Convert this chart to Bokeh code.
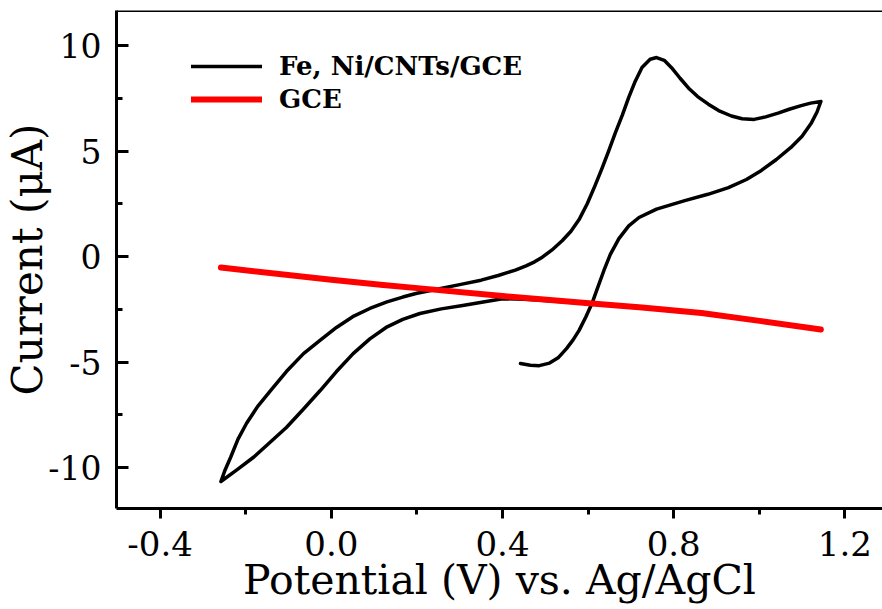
from bokeh.plotting import figure
from bokeh.models import FixedTicker, Span, Legend, LegendItem, Range1d
from bokeh.embed import file_html
from bokeh.resources import INLINE

# ---- data ----
fe_ni_potential = [
    0.442, 0.465, 0.486, 0.51, 0.53, 0.55, 0.565, 0.579, 0.595, 0.609, 0.622, 0.637, 0.652,
    0.672, 0.695, 0.719, 0.76, 0.826, 0.88, 0.928, 0.97, 1.005, 1.04, 1.074, 1.10, 1.121,
    1.135, 1.144,
    1.12, 1.098, 1.07, 1.044, 1.015, 0.988, 0.96, 0.935, 0.905, 0.881, 0.856, 0.835, 0.815,
    0.795, 0.778, 0.760, 0.745, 0.726, 0.71, 0.695, 0.68, 0.663, 0.648, 0.633, 0.616, 0.598,
    0.579, 0.56, 0.54, 0.515, 0.493, 0.475, 0.455, 0.43, 0.39, 0.35, 0.30, 0.244, 0.20, 0.167,
    0.13, 0.09, 0.05, 0.012, -0.025, -0.065, -0.105, -0.142, -0.172, -0.198, -0.218, -0.235,
    -0.248, -0.258,
    -0.22, -0.181, -0.143, -0.105, -0.066, -0.026, 0.012, 0.051, 0.09, 0.128, 0.167, 0.207,
    0.257, 0.307, 0.355, 0.40, 0.45, 0.50, 0.55, 0.60,
]
fe_ni_current = [
    -5.07, -5.15, -5.17, -5.05, -4.8, -4.35, -3.95, -3.5, -2.85, -2.23, -1.5, -0.66, 0.1,
    0.85, 1.45, 1.85, 2.25, 2.65, 2.95, 3.27, 3.65, 4.08, 4.6, 5.17, 5.7, 6.3,
    6.85, 7.35,
    7.27, 7.15, 6.98, 6.8, 6.62, 6.5, 6.53, 6.66, 6.92, 7.22, 7.58, 7.98, 8.45,
    8.95, 9.3, 9.43, 9.35, 8.96, 8.3, 7.54, 6.7, 5.83, 5.0, 4.2, 3.35, 2.5,
    1.75, 1.2, 0.76, 0.3, -0.03, -0.25, -0.44, -0.64, -0.9, -1.12, -1.33, -1.56, -1.74, -1.92,
    -2.15, -2.46, -2.85, -3.36, -3.95, -4.6, -5.45, -6.35, -7.1, -7.9, -8.65, -9.5,
    -10.1, -10.66,
    -10.1, -9.5, -8.8, -8.1, -7.25, -6.35, -5.45, -4.6, -3.9, -3.36, -2.98, -2.7,
    -2.48, -2.32, -2.15, -2.0, -2.02, -2.08, -2.15, -2.22,
]
gce_potential = [-0.258, 0.0, 0.121, 0.214, 0.40, 0.609, 0.726, 0.865, 1.005, 1.144]
gce_current = [-0.52, -1.1, -1.35, -1.52, -1.87, -2.23, -2.42, -2.68, -3.06, -3.46]

series_labels = ["Fe, Ni/CNTs/GCE", "GCE"]

x_ticks = [-0.4, 0.0, 0.4, 0.8, 1.2]
x_tick_labels = ["-0.4", "0.0", "0.4", "0.8", "1.2"]
x_minor_ticks = [-0.2, 0.2, 0.6, 1.0]
y_ticks = [-10, -5, 0, 5, 10]
y_tick_labels = ["-10", "-5", "0", "5", "10"]
y_minor_ticks = [-7.5, -2.5, 2.5, 7.5]

x_label = "Potential (V) vs. Ag/AgCl"
y_label = "Current (\u03bcA)"

X_MIN, X_MAX = -0.502, 1.288
Y_MIN, Y_MAX = -11.94, 11.66

FONT = "DejaVu Serif"

p = figure(width=882, height=609, output_backend="svg", toolbar_location=None,
           x_range=Range1d(X_MIN, X_MAX), y_range=Range1d(Y_MIN, Y_MAX),
           min_border_left=112, min_border_right=0, min_border_top=10, min_border_bottom=101,
           background_fill_color="white", border_fill_color="white")
p.outline_line_color = None
p.grid.visible = False

# x axis
xa = p.xaxis[0]
xa.ticker = FixedTicker(ticks=x_ticks, minor_ticks=x_minor_ticks)
xa.major_label_overrides = {t: l for t, l in zip(x_ticks, x_tick_labels)}
xa.axis_line_width = 3
xa.major_tick_line_width = 3
xa.minor_tick_line_width = 3
xa.major_tick_out = 10
xa.major_tick_in = 0
xa.minor_tick_out = 6
xa.minor_tick_in = 0
xa.major_label_text_font = FONT
xa.major_label_text_font_size = "34px"
xa.major_label_text_color = "black"
xa.major_label_standoff = 12
xa.axis_label = x_label
xa.axis_label_text_font = FONT
xa.axis_label_text_font_size = "41px"
xa.axis_label_text_font_style = "normal"
xa.axis_label_text_color = "black"
xa.axis_label_standoff = -3

# y axis
ya = p.yaxis[0]
ya.ticker = FixedTicker(ticks=y_ticks, minor_ticks=y_minor_ticks)
ya.major_label_overrides = {t: l for t, l in zip(y_ticks, y_tick_labels)}
ya.axis_line_width = 3
ya.major_tick_line_width = 3
ya.minor_tick_line_width = 3
ya.major_tick_in = 12
ya.major_tick_out = 0
ya.minor_tick_in = 6
ya.minor_tick_out = 0
ya.major_label_text_font = FONT
ya.major_label_text_font_size = "33px"
ya.major_label_text_color = "black"
ya.major_label_standoff = 15
ya.axis_label = y_label
ya.axis_label_text_font = FONT
ya.axis_label_text_font_size = "42px"
ya.axis_label_text_font_style = "normal"
ya.axis_label_text_color = "black"
ya.axis_label_standoff = -7

# top frame line
p.add_layout(Span(location=Y_MAX, dimension="width", line_color="black", line_width=3))

r1 = p.line(fe_ni_potential, fe_ni_current, line_color="black", line_width=3.5,
            line_join="round", line_cap="round")
r2 = p.line(gce_potential, gce_current, line_color="#ff0000", line_width=6,
            line_join="round", line_cap="round")

legend = Legend(items=[LegendItem(label=series_labels[0], renderers=[r1]),
                       LegendItem(label=series_labels[1], renderers=[r2])],
                location=(75, 394), glyph_width=71, glyph_height=28, label_height=28,
                spacing=3, padding=0, margin=0, label_standoff=17,
                border_line_color=None, background_fill_alpha=0,
                label_text_font=FONT, label_text_font_style="bold",
                label_text_font_size="26px", label_text_color="black")
p.add_layout(legend)

open("out.html", "w").write(file_html(p, INLINE))
